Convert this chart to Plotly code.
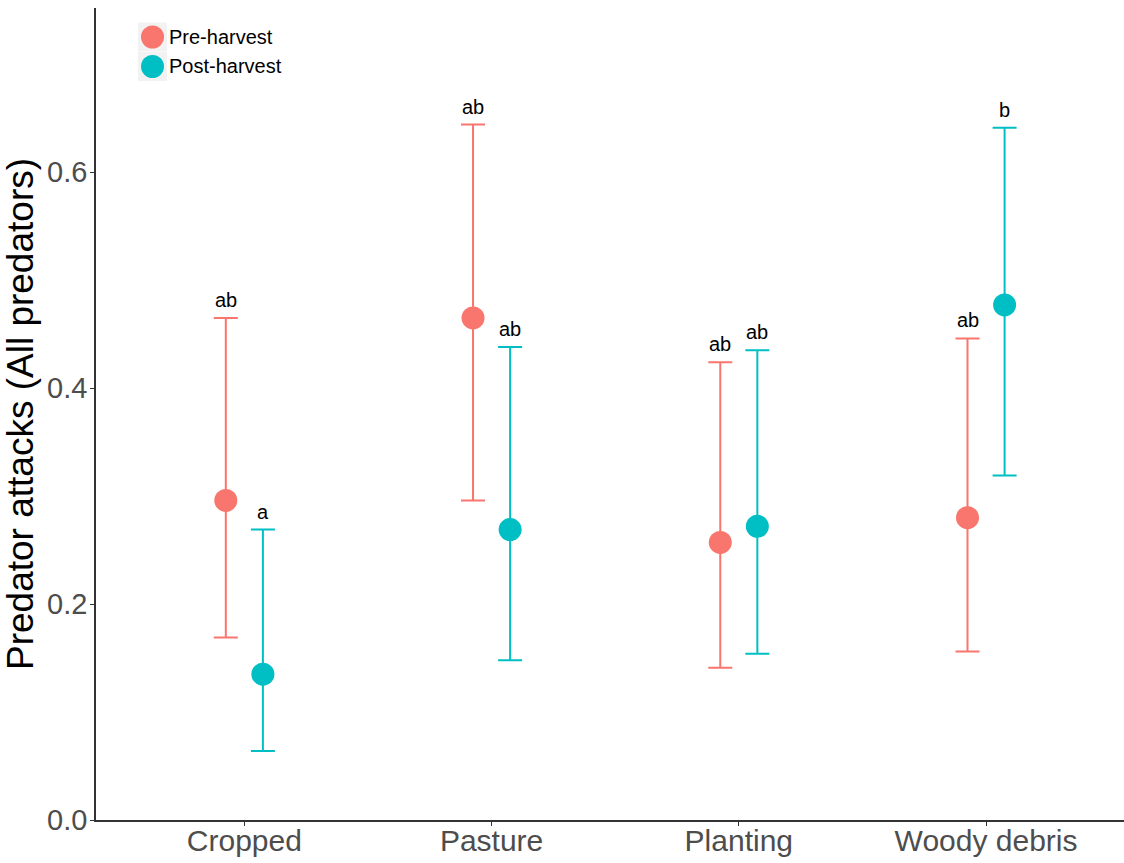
import plotly.graph_objects as go

# Habitat categories and group labels
categories = ["Cropped", "Pasture", "Planting", "Woody debris"]
groups = ["Pre-harvest", "Post-harvest"]

# Mean predator attack rates with lower/upper confidence limits
pre_mean = [0.296, 0.465, 0.257, 0.280]
pre_low = [0.169, 0.296, 0.141, 0.156]
pre_high = [0.465, 0.644, 0.424, 0.446]
pre_letters = ["ab", "ab", "ab", "ab"]

post_mean = [0.135, 0.269, 0.272, 0.477]
post_low = [0.064, 0.148, 0.154, 0.319]
post_high = [0.269, 0.438, 0.435, 0.641]
post_letters = ["a", "ab", "ab", "b"]

colors = {"Pre-harvest": "#F8766D", "Post-harvest": "#00BFC4"}
dodge = 0.075
FONT = "Liberation Sans, Arial, sans-serif"

# plot-area geometry in pixels (used to place the hand-drawn legend)
W, H = 1124, 863
ML, MR, MT, MB = 96, 0, 8, 43
PW, PH = W - ML - MR, H - MT - MB


def px_to_paper(px, py):
    return (px - ML) / PW, (H - MB - py) / PH


fig = go.Figure()

series = [
    ("Pre-harvest", -dodge, pre_mean, pre_low, pre_high, pre_letters),
    ("Post-harvest", dodge, post_mean, post_low, post_high, post_letters),
]

for name, off, mean, low, high, letters in series:
    xs = [i + 1 + off for i in range(len(categories))]
    col = colors[name]
    fig.add_trace(go.Scatter(
        x=xs, y=mean, mode="markers", name=name, showlegend=False,
        marker=dict(color=col, size=23, line=dict(width=0)),
        error_y=dict(
            type="data", symmetric=False,
            array=[h - m for h, m in zip(high, mean)],
            arrayminus=[m - l for m, l in zip(mean, low)],
            color=col, thickness=2, width=12,
        ),
    ))
    for x, y, t in zip(xs, high, letters):
        fig.add_annotation(
            x=x, y=y, text=t, showarrow=False,
            xanchor="center", yanchor="bottom", yshift=5,
            font=dict(family=FONT, size=20, color="black"),
        )

# legend: grey key boxes with coloured dots and labels
for k, name in enumerate(groups):
    cy = 37 + 29.5 * k
    x0, y0 = px_to_paper(138, cy - 14.5)
    x1, y1 = px_to_paper(167, cy + 14.5)
    fig.add_shape(type="rect", xref="paper", yref="paper",
                  x0=x0, x1=x1, y0=y0, y1=y1,
                  fillcolor="#f2f2f2", line=dict(width=0), layer="below")
    cx0, cy0 = px_to_paper(152.5 - 11.5, cy - 11.5)
    cx1, cy1 = px_to_paper(152.5 + 11.5, cy + 11.5)
    fig.add_shape(type="circle", xref="paper", yref="paper",
                  x0=cx0, x1=cx1, y0=cy0, y1=cy1,
                  fillcolor=colors[name], line=dict(width=0))
    tx, ty = px_to_paper(167, cy)
    fig.add_annotation(xref="paper", yref="paper", x=tx, y=ty, text=name,
                       showarrow=False, xanchor="left", yanchor="middle",
                       font=dict(family=FONT, size=20, color="black"))

fig.update_layout(
    width=W, height=H,
    margin=dict(l=ML, r=MR, t=MT, b=MB, autoexpand=False),
    paper_bgcolor="white", plot_bgcolor="white",
    font=dict(family=FONT),
    showlegend=False,
    xaxis=dict(
        range=[0.4, 4.558], automargin=False,
        tickmode="array", tickvals=[1, 2, 3, 4], ticktext=categories,
        showline=True, linecolor="#333333", linewidth=1.5,
        ticks="outside", ticklen=4, tickcolor="#333333",
        ticklabelstandoff=-11,
        tickfont=dict(size=30, color="#4d4d4d"),
        showgrid=False, zeroline=False,
    ),
    yaxis=dict(
        range=[0, 0.752], automargin=False,
        tickmode="array", tickvals=[0.0, 0.2, 0.4, 0.6],
        ticktext=["0.0", "0.2", "0.4", "0.6"],
        showline=True, linecolor="#333333", linewidth=1.5,
        ticks="outside", ticklen=4, tickcolor="#333333",
        ticklabelstandoff=-3,
        tickfont=dict(size=29, color="#4d4d4d"),
        title=dict(text="Predator attacks (All predators)",
                   font=dict(size=37, color="black"), standoff=4),
        showgrid=False, zeroline=False,
    ),
)

fig.write_html("out.html")
